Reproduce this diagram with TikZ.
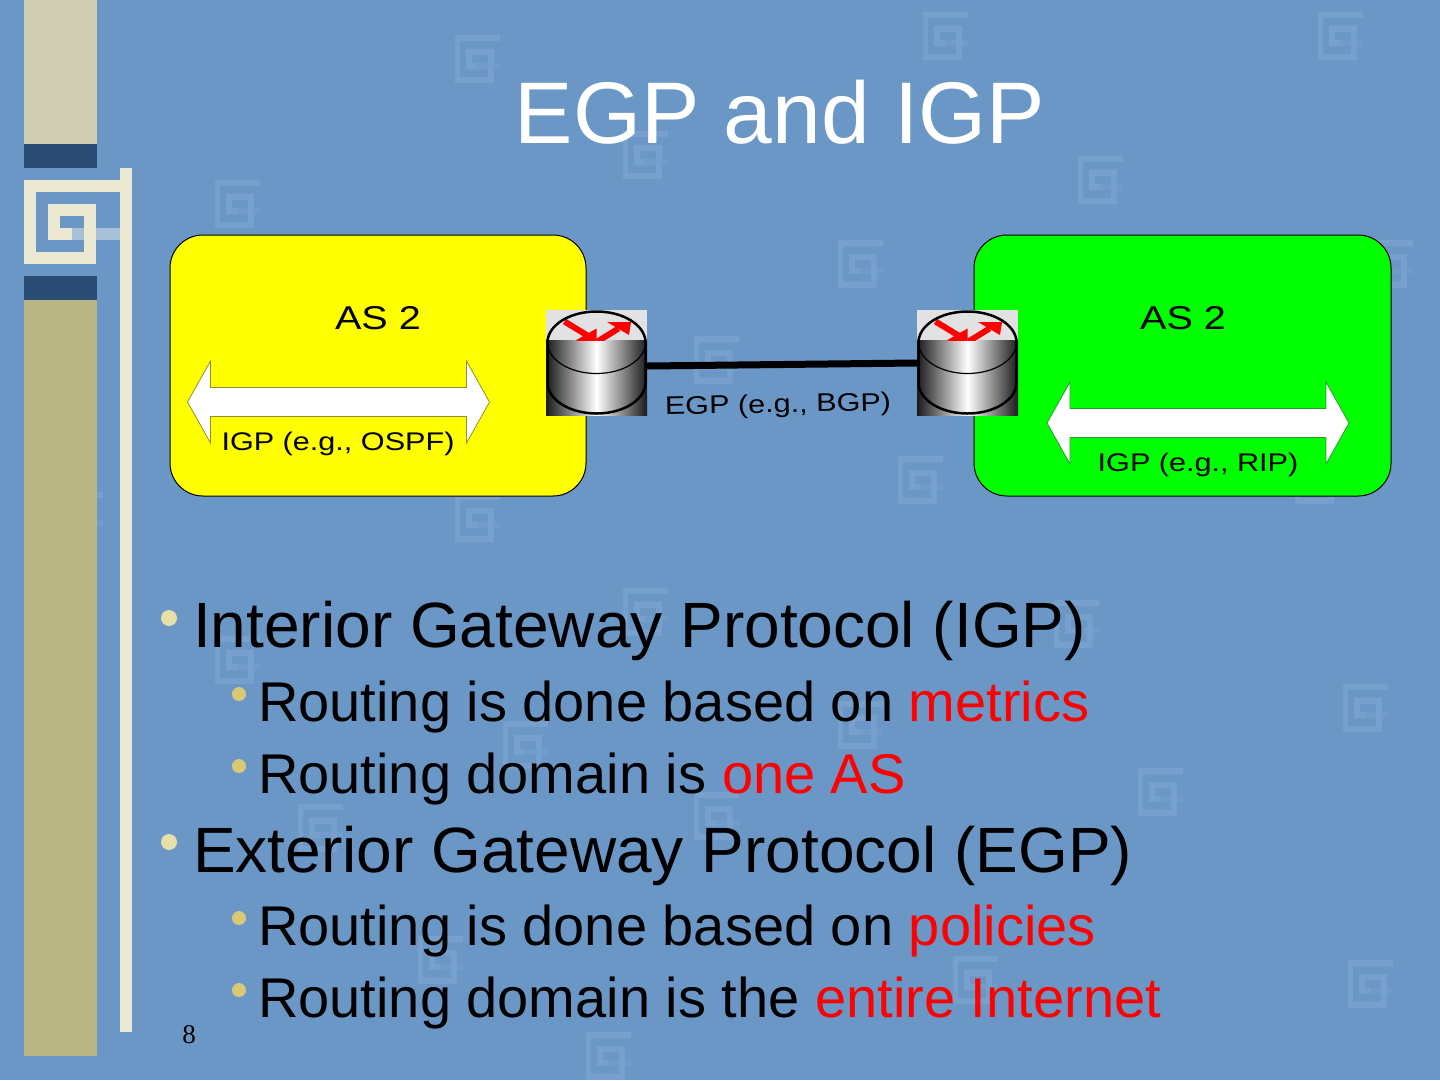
\documentclass[tikz,border=0pt]{standalone}
\usepackage{fontspec}
\usepackage{tikz}
\usetikzlibrary{arrows.meta}
\setmainfont{Liberation Sans}
\newfontfamily\wideface[FakeStretch=1.2]{Liberation Sans}
\newfontfamily\pagenumface{Liberation Serif}

\definecolor{slidebg}{HTML}{6B97C7}
\definecolor{markblue}{HTML}{77A0CD}
\definecolor{markpale}{HTML}{719BCA}
\definecolor{cream}{HTML}{EBE9D2}
\definecolor{paleband}{HTML}{A9C1D6}
\definecolor{navyband}{HTML}{2A4B74}
\definecolor{sandtop}{HTML}{D0CEB2}
\definecolor{olivebar}{HTML}{B9B584}
\definecolor{bulletbig}{HTML}{E8DFA8}
\definecolor{bulletsub}{HTML}{D9C878}
\definecolor{arrowedge}{HTML}{8F8F30}
\definecolor{arrowedgeR}{HTML}{2E9A2E}
\definecolor{routertop}{HTML}{E2E2E2}
\definecolor{boxyellow}{RGB}{255,255,0}
\definecolor{boxgreen}{RGB}{0,255,0}
\definecolor{tipred}{RGB}{255,0,0}

\begin{document}
\begin{tikzpicture}[x=1pt,y=-1pt,
  asbox/.style={draw=black,line width=1pt,rounded corners=33pt},
  aslabel/.style={font=\wideface\fontsize{33}{36}\selectfont,text=black,inner sep=0pt},
  linklabel/.style={font=\wideface\fontsize{25.5}{30}\selectfont,text=black,inner sep=0pt},
  toptext/.style={anchor=base west,inner sep=0pt,font=\fontsize{64}{66}\selectfont,text=black},
  subtext/.style={anchor=base west,inner sep=0pt,font=\fontsize{56}{58}\selectfont,text=black},
  routerbox/.style={minimum width=101pt,minimum height=105pt,inner sep=0pt},
  pics/spiralmark/.style={code={
    \draw[markpale,line width=5.5pt] (0,7)--(22.5,7);
    \draw[markblue,line width=5.5pt,line join=miter]
      (22.5,-21)--(-19.5,-21)--(-19.5,21)--(14,21)--(14,-7)--(-8,-7)--(-8,7)--(0,7);
  }},
  pics/igparrow/.style={code={
    \draw[draw=#1,line width=0.8pt,fill=white]
      (-151,0)--(-128,-41)--(-128,-14.5)--(128,-14.5)--(128,-41)--(151,0)
      --(128,41)--(128,14.5)--(-128,14.5)--(-128,41)--cycle;
  }},
  pics/routerpic/.style={code={
    \fill[routertop] (-50.5,-52.5) rectangle (50.5,-22.5);
    \shade[left color=black!90,right color=black!90,middle color=white] (-50.5,-22.5) rectangle (50.5,52.5);
    \begin{scope}
      \clip (-50.5,-52.5) rectangle (50.5,-22.5);
      \draw[tipred,line width=6pt] (-32,-41)--(-9,-27);
      \fill[tipred] (0,-20)--(0,-34)--(-21,-22)--cycle;
      \draw[tipred,line width=6pt] (1,-21)--(22,-34);
      \fill[tipred] (34.5,-40.5)--(10.5,-40.5)--(32.5,-27.5)--cycle;
    \end{scope}
    \draw[black,line width=2.5pt] (-49,20)--(-49,-20)
      arc[start angle=180,end angle=360,x radius=49,y radius=31]--(49,20)
      arc[start angle=0,end angle=180,x radius=49,y radius=31];
    \draw[black,line width=1.2pt] (-49,-20) arc[start angle=180,end angle=0,x radius=49,y radius=31];
  }}
]
\useasboundingbox (0,0) rectangle (1440,1080);
\fill[slidebg] (0,0) rectangle (1440,1080);

% background marks
\foreach \mx/\my in {477/59,945/36,1340/36,237/204,645/155,1100/180,860/264,1390/264,716/360,920/480,477/518,80/516,1317/480,645/612,1076/624,237/660,1365/708,525/745,860/725,1160/792,320/828,716/816,440/960,975/980,1370/984,608/1056}
  \pic at (\mx,\my) {spiralmark};

% side bar
\fill[sandtop] (24,0) rectangle (97,144);
\fill[navyband] (24,144) rectangle (97,168);
\fill[navyband] (24,276) rectangle (97,300);
\fill[olivebar] (24,300) rectangle (97,1056);
\fill[cream] (120,168) rectangle (132,1032);
\fill[paleband] (72,228) rectangle (120,240);
\draw[cream,line width=12pt,line join=miter] (120,186)--(30,186)--(30,258)--(90,258)--(90,210)--(54,210)--(54,234)--(72,234);

\node[font=\fontsize{87.5}{90}\selectfont,text=white,anchor=base,inner sep=0pt] (title) at (780,143) {EGP and IGP};

% the two AS boxes
\node[asbox,fill=boxyellow,minimum width=416pt,minimum height=261pt,inner sep=0pt] (asleft) at (378,365.5) {};
\node[asbox,fill=boxgreen,minimum width=417pt,minimum height=261pt,inner sep=0pt] (asright) at (1182.5,365.5) {};
\node[aslabel] (aslabelL) at (378,318) {AS 2};
\node[aslabel] (aslabelR) at (1183,318) {AS 2};

\pic at (338.5,402) {igparrow=arrowedge};
\pic at (1198,423) {igparrow=arrowedgeR};
\node[linklabel] (igpL) at (338,444) {IGP (e.g., OSPF)};
\node[linklabel] (igpR) at (1198,465) {IGP (e.g., RIP)};

% routers and the link
\node[routerbox] (routerL) at (596.5,362.5) {};
\node[routerbox] (routerR) at (967.5,362.5) {};
\pic at (routerL) {routerpic};
\pic at (routerR) {routerpic};
\coordinate (linkL) at ([yshift=-3.5pt]routerL.east);
\coordinate (linkR) at ([yshift=-0.5pt]routerR.west);
\draw[black,line width=7pt] (linkL)--(linkR);
\node[linklabel,rotate=1] (egp) at (778,406) {EGP (e.g., BGP)};

% bullets
\foreach \by in {618,842} \fill[bulletbig] (169,\by) circle[radius=8pt];
\foreach \by in {694,766,918,990} \fill[bulletsub] (239,\by) circle[radius=7pt];
\node[toptext] (igptext) at (193,647) {Interior Gateway Protocol (IGP)};
\node[subtext] (igpone) at (258,721) {Routing is done based on \textcolor{tipred}{metrics}};
\node[subtext] (igptwo) at (258,793) {Routing domain is \textcolor{tipred}{one AS}};
\node[toptext] (egptext) at (193,872) {Exterior Gateway Protocol (EGP)};
\node[subtext] (egpone) at (258,945) {Routing is done based on \textcolor{tipred}{policies}};
\node[subtext] (egptwo) at (258,1017) {Routing domain is the \textcolor{tipred}{entire Internet}};
\node[font=\pagenumface\fontsize{27}{30}\selectfont,text=black,inner sep=0pt] (pagenum) at (189,1035) {8};
\end{tikzpicture}
\end{document}
